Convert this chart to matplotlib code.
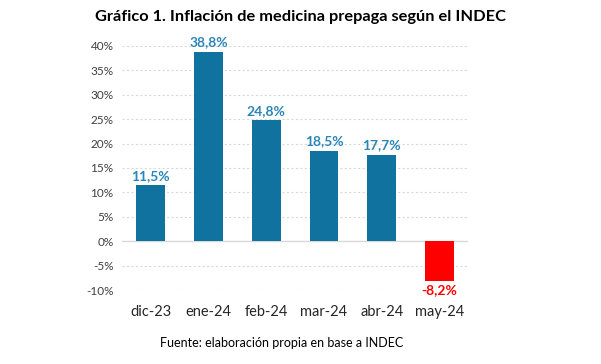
import numpy as np
import matplotlib.pyplot as plt

meses = ["dic-23", "ene-24", "feb-24", "mar-24", "abr-24", "may-24"]
inflacion = [11.5, 38.8, 24.8, 18.5, 17.7, -8.2]
etiquetas = ["11,5%", "38,8%", "24,8%", "18,5%", "17,7%", "-8,2%"]
yticks = [-10, -5, 0, 5, 10, 15, 20, 25, 30, 35, 40]

plt.rcParams['font.family'] = ['Lato', 'DejaVu Sans']

fig = plt.figure(figsize=(6.01, 3.64), dpi=100)
ax = fig.add_axes([0.203, 0.203, 0.576, 0.671])

azul = "#0f729f"
rojo = "#ff0000"
colores = [azul if v >= 0 else rojo for v in inflacion]
x = np.arange(len(meses))
ax.bar(x, inflacion, width=0.5, color=colores, zorder=3)

for xi, v, txt in zip(x, inflacion, etiquetas):
    if v >= 0:
        ax.text(xi, v + 0.7, txt, ha='center', va='bottom', fontsize=10,
                fontweight='bold', color="#2a86b8")
    else:
        ax.text(xi, v - 0.6, txt, ha='center', va='top', fontsize=10,
                fontweight='bold', color=rojo)

ax.set_xlim(-0.5, 5.5)
ax.set_ylim(-10, 40)
ax.set_yticks(yticks)
ax.set_yticklabels([f"{t}%" for t in yticks], fontsize=8.5, color="#404040")
ax.set_xticks(x)
ax.set_xticklabels(meses, fontsize=10.5, color="#262626")
ax.tick_params(length=0, pad=6)
ax.tick_params(axis='x', pad=11)

for t in yticks:
    if t == 0:
        ax.axhline(0, color="#d9d9d9", lw=1, zorder=1)
    else:
        ax.axhline(t, color="#d9d9d9", lw=0.8, ls=(0, (2, 2)), zorder=1)

for s in ax.spines.values():
    s.set_visible(False)

fig.text(0.5, 0.953, "Gráfico 1. Inflación de medicina prepaga según el INDEC",
         ha='center', va='center', fontsize=11.8, fontweight='bold', color="#000000")
fig.text(0.468, 0.057, "Fuente: elaboración propia en base a INDEC",
         ha='center', va='center', fontsize=9, color="#000000")

fig.savefig("out.png", dpi=100)
